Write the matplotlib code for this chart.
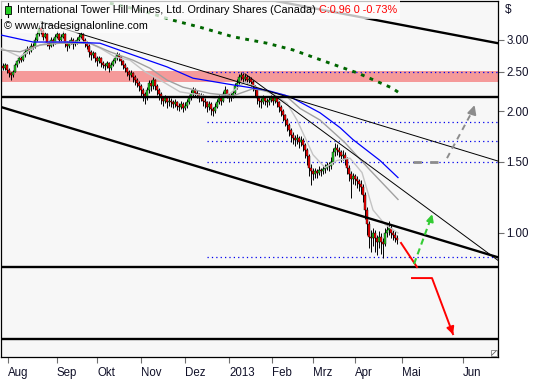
import numpy as np
import matplotlib
matplotlib.use("Agg")
import matplotlib.pyplot as plt
from matplotlib.patches import Rectangle
from matplotlib.ticker import NullLocator

# daily candles (bar index 0 = late July 2012)
opens = [2.58, 2.55, 2.60, 2.52, 2.48, 2.45, 2.50, 2.60, 2.65, 2.70,
         2.68, 2.75, 2.80, 2.85, 2.82, 2.90, 2.88, 3.00, 3.10, 3.20,
         3.15, 3.05, 3.10, 2.95, 2.90, 3.00, 2.95, 3.05, 3.10, 3.00,
         3.05, 3.10, 2.95, 2.90, 2.95, 3.00, 2.92, 2.95, 3.00, 3.05,
         3.10, 3.00, 2.95, 2.90, 2.80, 2.75, 2.78, 2.70, 2.65, 2.70,
         2.62, 2.60, 2.58, 2.62, 2.55, 2.60, 2.65, 2.70, 2.75, 2.72,
         2.65, 2.60, 2.55, 2.50, 2.45, 2.48, 2.42, 2.38, 2.35, 2.30,
         2.25, 2.20, 2.15, 2.25, 2.35, 2.30, 2.38, 2.30, 2.25, 2.20,
         2.15, 2.12, 2.15, 2.10, 2.12, 2.10, 2.08, 2.10, 2.06, 2.05,
         2.08, 2.04, 2.06, 2.10, 2.15, 2.20, 2.25, 2.22, 2.20, 2.15,
         2.18, 2.12, 2.10, 2.05, 2.08, 2.02, 2.00, 2.05, 2.10, 2.15,
         2.12, 2.20, 2.25, 2.20, 2.15, 2.18, 2.22, 2.30, 2.35, 2.42,
         2.45, 2.40, 2.42, 2.38, 2.40, 2.36, 2.30, 2.25, 2.15, 2.12,
         2.10, 2.15, 2.12, 2.10, 2.13, 2.15, 2.12, 2.15, 2.10, 2.05,
         2.00, 1.95, 1.90, 1.85, 1.80, 1.75, 1.72, 1.70, 1.72, 1.68,
         1.70, 1.65, 1.60, 1.55, 1.45, 1.42, 1.40, 1.42, 1.41, 1.43,
         1.42, 1.44, 1.45, 1.47, 1.46, 1.50, 1.58, 1.62, 1.60, 1.58,
         1.55, 1.56, 1.52, 1.45, 1.40, 1.36, 1.38, 1.36, 1.34, 1.32,
         1.30, 1.24, 1.14, 1.05, 0.98, 0.97, 1.00, 0.97, 0.95, 0.98,
         0.95, 0.94, 1.00, 1.02, 1.03, 1.00, 0.99, 0.97]
highs = [2.62, 2.63, 2.61, 2.55, 2.50, 2.53, 2.62, 2.68, 2.73, 2.74,
         2.78, 2.84, 2.90, 2.88, 2.94, 2.95, 3.04, 3.15, 3.26, 3.24,
         3.18, 3.14, 3.12, 2.98, 3.04, 3.03, 3.09, 3.16, 3.12, 3.09,
         3.15, 3.12, 2.98, 2.99, 3.04, 3.03, 2.99, 3.04, 3.09, 3.14,
         3.12, 3.03, 2.98, 2.92, 2.83, 2.82, 2.80, 2.73, 2.74, 2.72,
         2.66, 2.63, 2.66, 2.64, 2.64, 2.69, 2.74, 2.80, 2.78, 2.74,
         2.67, 2.62, 2.57, 2.52, 2.52, 2.50, 2.45, 2.41, 2.37, 2.33,
         2.28, 2.23, 2.29, 2.39, 2.38, 2.42, 2.40, 2.33, 2.28, 2.23,
         2.18, 2.19, 2.17, 2.16, 2.15, 2.13, 2.14, 2.12, 2.09, 2.12,
         2.10, 2.10, 2.14, 2.19, 2.25, 2.29, 2.28, 2.25, 2.22, 2.22,
         2.20, 2.15, 2.12, 2.12, 2.10, 2.05, 2.09, 2.14, 2.19, 2.18,
         2.24, 2.30, 2.27, 2.22, 2.22, 2.26, 2.34, 2.40, 2.47, 2.50,
         2.48, 2.47, 2.45, 2.44, 2.43, 2.38, 2.32, 2.27, 2.18, 2.15,
         2.19, 2.18, 2.15, 2.17, 2.19, 2.18, 2.19, 2.17, 2.12, 2.07,
         2.02, 1.97, 1.92, 1.87, 1.82, 1.78, 1.75, 1.76, 1.74, 1.74,
         1.72, 1.67, 1.62, 1.57, 1.48, 1.45, 1.45, 1.44, 1.46, 1.45,
         1.47, 1.48, 1.50, 1.50, 1.54, 1.62, 1.67, 1.66, 1.63, 1.60,
         1.60, 1.58, 1.54, 1.47, 1.42, 1.41, 1.40, 1.38, 1.36, 1.35,
         1.32, 1.26, 1.16, 1.07, 1.02, 1.03, 1.02, 0.99, 1.01, 1.00,
         0.97, 1.03, 1.06, 1.07, 1.05, 1.02, 1.01, 0.99]
lows = [2.52, 2.53, 2.48, 2.42, 2.38, 2.43, 2.49, 2.57, 2.63, 2.64,
        2.66, 2.72, 2.78, 2.76, 2.80, 2.84, 2.86, 2.98, 3.06, 3.10,
        3.00, 3.02, 2.90, 2.84, 2.88, 2.90, 2.93, 3.02, 2.96, 2.97,
        3.03, 2.88, 2.82, 2.86, 2.92, 2.85, 2.89, 2.93, 2.97, 3.02,
        2.95, 2.88, 2.84, 2.72, 2.68, 2.71, 2.64, 2.59, 2.62, 2.57,
        2.55, 2.53, 2.55, 2.50, 2.53, 2.58, 2.63, 2.68, 2.66, 2.60,
        2.54, 2.49, 2.44, 2.38, 2.42, 2.36, 2.32, 2.29, 2.24, 2.18,
        2.12, 2.08, 2.13, 2.22, 2.24, 2.27, 2.25, 2.19, 2.13, 2.08,
        2.06, 2.09, 2.04, 2.06, 2.05, 2.03, 2.05, 2.01, 2.00, 2.02,
        1.99, 2.01, 2.04, 2.08, 2.13, 2.18, 2.17, 2.15, 2.10, 2.12,
        2.06, 2.04, 1.99, 2.01, 1.96, 1.94, 1.98, 2.03, 2.08, 2.07,
        2.10, 2.18, 2.15, 2.10, 2.12, 2.15, 2.20, 2.27, 2.33, 2.38,
        2.35, 2.36, 2.33, 2.34, 2.31, 2.24, 2.18, 2.08, 2.05, 2.04,
        2.08, 2.07, 2.05, 2.07, 2.10, 2.07, 2.09, 2.05, 1.99, 1.94,
        1.89, 1.84, 1.79, 1.74, 1.68, 1.66, 1.64, 1.66, 1.62, 1.64,
        1.59, 1.53, 1.47, 1.38, 1.31, 1.35, 1.37, 1.37, 1.39, 1.38,
        1.40, 1.41, 1.43, 1.42, 1.44, 1.48, 1.55, 1.56, 1.54, 1.50,
        1.51, 1.47, 1.40, 1.34, 1.22, 1.32, 1.31, 1.29, 1.27, 1.25,
        1.19, 1.08, 0.99, 0.92, 0.90, 0.93, 0.90, 0.88, 0.92, 0.89,
        0.87, 0.93, 0.98, 0.99, 0.97, 0.96, 0.95, 0.94]
closes = [2.55, 2.60, 2.52, 2.48, 2.45, 2.50, 2.60, 2.65, 2.70, 2.68,
          2.75, 2.80, 2.85, 2.82, 2.90, 2.88, 3.00, 3.10, 3.20, 3.15,
          3.05, 3.10, 2.95, 2.90, 3.00, 2.95, 3.05, 3.10, 3.00, 3.05,
          3.10, 2.95, 2.90, 2.95, 3.00, 2.92, 2.95, 3.00, 3.05, 3.10,
          3.00, 2.95, 2.90, 2.80, 2.75, 2.78, 2.70, 2.65, 2.70, 2.62,
          2.60, 2.58, 2.62, 2.55, 2.60, 2.65, 2.70, 2.75, 2.72, 2.65,
          2.60, 2.55, 2.50, 2.45, 2.48, 2.42, 2.38, 2.35, 2.30, 2.25,
          2.20, 2.15, 2.25, 2.35, 2.30, 2.38, 2.30, 2.25, 2.20, 2.15,
          2.12, 2.15, 2.10, 2.12, 2.10, 2.08, 2.10, 2.06, 2.05, 2.08,
          2.04, 2.06, 2.10, 2.15, 2.20, 2.25, 2.22, 2.20, 2.15, 2.18,
          2.12, 2.10, 2.05, 2.08, 2.02, 2.00, 2.05, 2.10, 2.15, 2.12,
          2.20, 2.25, 2.20, 2.15, 2.18, 2.22, 2.30, 2.35, 2.42, 2.45,
          2.40, 2.42, 2.38, 2.40, 2.36, 2.30, 2.25, 2.15, 2.12, 2.10,
          2.15, 2.12, 2.10, 2.13, 2.15, 2.12, 2.15, 2.10, 2.05, 2.00,
          1.95, 1.90, 1.85, 1.80, 1.75, 1.72, 1.70, 1.72, 1.68, 1.70,
          1.65, 1.60, 1.55, 1.45, 1.42, 1.40, 1.42, 1.41, 1.43, 1.42,
          1.44, 1.45, 1.47, 1.46, 1.50, 1.58, 1.62, 1.60, 1.58, 1.55,
          1.56, 1.52, 1.45, 1.40, 1.36, 1.38, 1.36, 1.34, 1.32, 1.30,
          1.24, 1.14, 1.05, 0.98, 0.97, 1.00, 0.97, 0.95, 0.98, 0.95,
          0.94, 1.00, 1.02, 1.03, 1.00, 0.99, 0.97, 0.96]

# moving averages read at a few bars
blue_x = [-1, 15, 32, 48.5, 65, 82, 95, 115, 132, 143.5, 158.5, 168.5, 175, 188.5, 197.5]
blue_y = [3.08, 2.96, 2.96, 2.94, 2.75, 2.57, 2.41, 2.32, 2.25, 2.17, 1.98, 1.82, 1.70, 1.51, 1.37]
slow_x = [-1, 8.5, 18.5, 28.5, 43.5, 53.5, 65, 73.5, 82, 90, 103.5, 115, 125, 133.5, 141,
          148.5, 158.5, 171, 183.5, 197.5]
slow_y = [2.83, 2.80, 2.91, 2.94, 2.94, 2.80, 2.67, 2.55, 2.385, 2.29, 2.21, 2.18, 2.27, 2.23,
          2.19, 2.03, 1.90, 1.67, 1.43, 1.21]
fast_x = [-1, 8.5, 16, 23.5, 42, 48.5, 56, 63.5, 71, 78.5, 88.5, 98.5, 106, 113.5, 121,
          127.5, 136, 142, 147, 155, 161, 167, 173.5, 179.5, 185, 191, 197.5]
fast_y = [2.86, 2.72, 2.88, 2.96, 2.96, 2.86, 2.72, 2.67, 2.50, 2.385, 2.23, 2.19, 2.15, 2.21,
          2.36, 2.28, 2.19, 2.09, 1.90, 1.56, 1.45, 1.51, 1.53, 1.41, 1.14, 1.05, 1.00]

# projection curve (green dots)
proj_x = [53.5, 68.5, 85, 98.5, 115, 132, 145, 162, 177.5, 194.5, 198.5]
proj_y = [3.69, 3.55, 3.35, 3.22, 3.05, 2.94, 2.83, 2.64, 2.48, 2.28, 2.21]

fib_levels = [2.496, 1.878, 1.687, 1.497, 0.872]
h_levels = [2.166, 0.824, 0.548]
band = (2.36, 2.51)

month_labels = ['Aug', 'Sep', 'Okt', 'Nov', 'Dez', '2013', 'Feb', 'Mrz', 'Apr', 'Mai', 'Jun']
month_pos = [2.7, 26.75, 47, 69, 91, 113, 134.5, 155, 176, 199.5, 230]

font = 'Liberation Sans'
W, H = 540, 380
fig = plt.figure(figsize=(W / 100, H / 100), dpi=100)
fig.patch.set_facecolor('white')
ax = fig.add_axes([1 / W, 23 / H, 497 / W, 356 / H])
ax.set_facecolor('#f7f7f7')
ax.set_yscale('log')
ax.set_xlim(-1, 247.5)
ax.set_ylim(0.4943, 3.737)

ax.axhspan(band[0], band[1], color='#f59a9a', lw=0, zorder=1)
ax.hlines(fib_levels, 102, 247.5, colors='#0000ee', linestyles=(0, (1, 2.5)), lw=0.9, zorder=2)
ax.hlines(h_levels, -1, 247.5, colors='black', lw=1.7, zorder=5)

x = np.arange(len(closes))
o = np.array(opens)
c = np.array(closes)
cols = np.where(c >= o, '#22cc22', '#ff0000')
bot = np.minimum(o, c)
hgt = np.maximum(np.abs(c - o), 0.006)
ax.vlines(x, lows, highs, color='black', lw=0.7, zorder=3)
ax.bar(x, hgt, bottom=bot, width=1.2, color=cols, edgecolor='black', lw=0.3, zorder=3)

ax.plot(fast_x, fast_y, color='#c4c4c4', lw=1.0, zorder=4)
ax.plot(slow_x, slow_y, color='#a0a0a0', lw=1.0, zorder=4)
ax.plot(blue_x, blue_y, color='#0000ff', lw=0.9, zorder=4)

# trend lines
ax.plot([133.5, 247.5], [3.76, 2.94], color='black', lw=1.7, zorder=5)
ax.plot([-1, 247.5], [2.046, 0.871], color='black', lw=1.7, zorder=5)
ax.plot([19, 247.5], [3.32, 1.505], color='black', lw=0.7, zorder=5)
ax.plot([121, 247.5], [2.47, 0.856], color='black', lw=0.7, zorder=5)

ax.plot(proj_x, proj_y, color='#006600', lw=2.1, linestyle=(0, (1.3, 1.9)),
        dash_capstyle='butt', zorder=5)

# red scenario arrow
ax.plot([199, 207], [0.945, 0.824], color='#ff0000', lw=1.4, zorder=6)
ax.plot([204.5, 214.5, 225], [0.774, 0.774, 0.563], color='#ff0000', lw=1.4, zorder=6)
ax.annotate('', xy=(225.5, 0.553), xytext=(223.5, 0.59),
            arrowprops=dict(arrowstyle='-|>', color='#ff0000', lw=1.4, mutation_scale=11), zorder=6)
# green scenario arrow
ax.plot([205.5, 214.3], [0.838, 1.10], color='#33cc33', lw=1.5, linestyle=(0, (3, 2)), zorder=6)
ax.annotate('', xy=(215, 1.13), xytext=(213.6, 1.07),
            arrowprops=dict(arrowstyle='-|>', color='#33cc33', lw=1.5, mutation_scale=10), zorder=6)
# gray scenario arrow
ax.plot([205, 220], [1.497, 1.497], color='#8c8c8c', lw=2.0, linestyle=(0, (3, 3)), zorder=6)
ax.plot([222, 235.2], [1.53, 2.02], color='#8c8c8c', lw=1.4, linestyle=(0, (3, 2.5)), zorder=6)
ax.annotate('', xy=(236.2, 2.1), xytext=(234.6, 1.98),
            arrowprops=dict(arrowstyle='-|>', color='#8c8c8c', lw=1.4, mutation_scale=13), zorder=6)

for s in ax.spines.values():
    s.set_color('black')
    s.set_linewidth(0.9)

ax.yaxis.tick_right()
ax.set_yticks([1.0, 1.5, 2.0, 2.5, 3.0])
ax.set_yticklabels(['1.00', '1.50', '2.00', '2.50', '3.00'])
ax.yaxis.set_minor_locator(NullLocator())
ax.tick_params(axis='y', length=4, width=0.8, color='#707070', pad=2,
               labelsize=8.3, labelcolor='#101028')
ax.set_xticks(month_pos)
ax.set_xticklabels(month_labels)
ax.xaxis.set_minor_locator(NullLocator())
ax.tick_params(axis='x', length=4, width=0.8, color='#707070', pad=3,
               labelsize=8.3, labelcolor='#101028')
for lab in ax.get_xticklabels() + ax.get_yticklabels():
    lab.set_fontfamily(font)
for lab in ax.get_xticklabels():
    lab.set_horizontalalignment('left')

fig.text(505 / W, 1 - 10 / H, '$', fontsize=8.5, family=font, color='#101028',
         va='center', ha='left')

# header boxes and texts
fig.patches.append(Rectangle((0, 1 - 19 / H), 400 / W, 19 / H, transform=fig.transFigure,
                             facecolor='white', alpha=0.75, edgecolor='none', zorder=20))
fig.patches.append(Rectangle((2 / W, 1 - 33 / H), 148 / W, 14 / H, transform=fig.transFigure,
                             facecolor='white', alpha=0.6, edgecolor='none', zorder=20))
fig.lines.append(plt.Line2D([8 / W, 8 / W], [1 - 3 / H, 1 - 17 / H], transform=fig.transFigure,
                            color='black', lw=0.8, zorder=21))
fig.patches.append(Rectangle((5 / W, 1 - 14 / H), 6 / W, 8 / H, transform=fig.transFigure,
                             facecolor='#22cc22', edgecolor='black', lw=0.6, zorder=22))
t1 = fig.text(17 / W, 1 - 10 / H, 'International Tower Hill Mines, Ltd. Ordinary Shares (Canada)',
              fontsize=7.8, family=font, color='black', va='center', ha='left', zorder=23)
fig.canvas.draw()
bb = t1.get_window_extent()
fig.text((bb.x1 + 3) / W, 1 - 10 / H, 'C:0.96 0 -0.73%', fontsize=7.8, family=font,
         color='#ff0000', va='center', ha='left', zorder=23)
fig.text(4 / W, 1 - 26 / H, '\u00a9 www.tradesignalonline.com', fontsize=7.8, family=font,
         color='black', va='center', ha='left', zorder=23)

# resize grip in the corner
fig.patches.append(Rectangle((491 / W, 1 - 356 / H), 6 / W, 6 / H, transform=fig.transFigure,
                             facecolor='white', edgecolor='#808080', lw=0.6, zorder=21))
fig.lines.append(plt.Line2D([492 / W, 496 / W], [1 - 355 / H, 1 - 351 / H], transform=fig.transFigure,
                            color='#606060', lw=0.6, zorder=22))

fig.savefig('out.png', dpi=100)
